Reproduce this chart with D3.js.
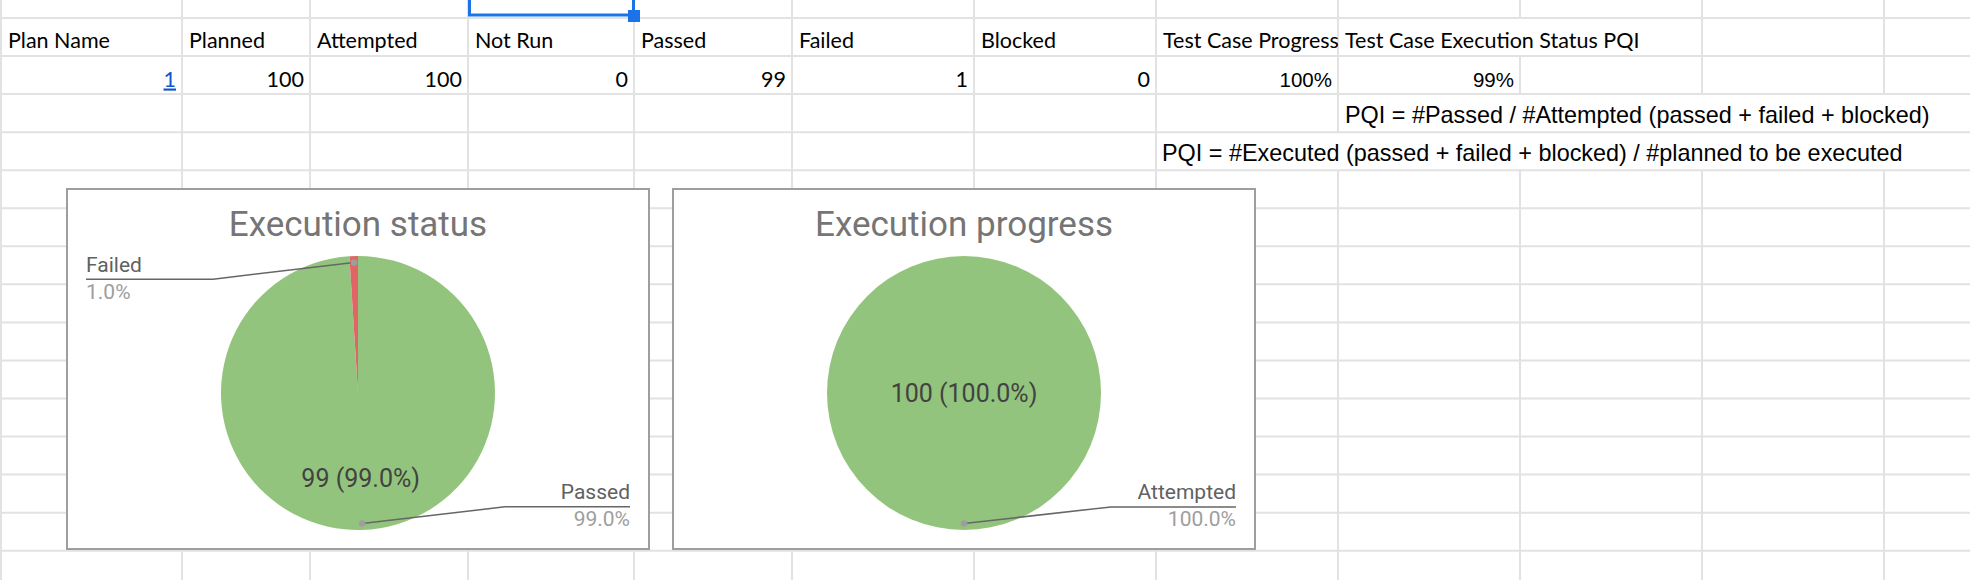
<!DOCTYPE html>
<html>
<head>
<meta charset="utf-8">
<script src="https://cdn.jsdelivr.net/npm/d3@7"></script>
<style>
  html, body { margin: 0; padding: 0; background: #fff; }
  svg { display: block; }
</style>
</head>
<body>
<div id="chart"></div>
<script>
// ---------- DATA ----------
const headers = ["Plan Name", "Planned", "Attempted", "Not Run", "Passed", "Failed", "Blocked", "Test Case Progress", "Test Case Execution Status PQI"];
const rowValues = ["1", "100", "100", "0", "99", "1", "0", "100%", "99%"];
const formulaPassed = "PQI = #Passed / #Attempted (passed + failed + blocked)";
const formulaExecuted = "PQI = #Executed (passed + failed + blocked) / #planned to be executed";

const statusTitle = "Execution status";
const statusLabels = ["Passed", "Failed"];
const statusValues = [99, 1];

const progressTitle = "Execution progress";
const progressLabels = ["Attempted"];
const progressValues = [100];

const sliceColors = { "Passed": "#93c47d", "Failed": "#e06666", "Attempted": "#93c47d" };

// ---------- LAYOUT ----------
const W = 1970, H = 580;
const colEdges = [1, 182, 310, 468, 634, 792, 974, 1156, 1338, 1520, 1702, 1884];
const rowTop = 18, rowH = 38.05;
const rowLines = d3.range(15).map(k => rowTop + rowH * k);
const gridColor = "#e2e2e2";
const cellFont = "Lato, 'Open Sans', sans-serif";
const arialFont = "'Liberation Sans', Arial, sans-serif";
const chartFont = "Roboto, 'Noto Sans', sans-serif";

const svg = d3.select("#chart").append("svg")
  .attr("width", W).attr("height", H)
  .attr("viewBox", `0 0 ${W} ${H}`);

svg.append("rect").attr("width", W).attr("height", H).attr("fill", "#fff");

// ---------- GRID ----------
const grid = svg.append("g");
rowLines.forEach(y => {
  grid.append("line").attr("x1", 0).attr("x2", W).attr("y1", y).attr("y2", y)
    .attr("stroke", gridColor).attr("stroke-width", 2);
});
// vertical lines hidden where text overflows: row index -> hidden column edges
const hidden = {
  0: [1520],
  2: [1520, 1702, 1884],
  3: [1338, 1520, 1702, 1884]
};
const rowBands = [[-30, rowLines[0]]].concat(d3.range(rowLines.length).map(i => [rowLines[i], i + 1 < rowLines.length ? rowLines[i + 1] : H + 30]));
rowBands.forEach((band, bi) => {
  const r = bi - 1;
  colEdges.forEach(x => {
    if (hidden[r] && hidden[r].includes(x)) return;
    grid.append("line").attr("x1", x).attr("x2", x).attr("y1", band[0]).attr("y2", band[1])
      .attr("stroke", gridColor).attr("stroke-width", 2);
  });
});

// ---------- CELL TEXT ----------
svg.append("defs").append("clipPath").attr("id", "clipProg")
  .append("rect").attr("x", colEdges[7]).attr("y", rowLines[0]).attr("width", colEdges[8] - colEdges[7]).attr("height", rowH);

headers.forEach((h, i) => {
  const t = svg.append("text")
    .attr("x", colEdges[i] + 7).attr("y", rowLines[1] - 7.7)
    .attr("font-family", cellFont).attr("font-size", 21.5).attr("fill", "#000")
    .text(h);
  if (i === 7) t.attr("clip-path", "url(#clipProg)");
});

rowValues.forEach((v, i) => {
  const isPct = v.endsWith("%");
  const t = svg.append("text")
    .attr("x", colEdges[i + 1] - 6).attr("y", rowLines[2] - 7.6)
    .attr("text-anchor", "end")
    .attr("font-family", isPct ? arialFont : cellFont)
    .attr("font-size", isPct ? 20.5 : 21.5)
    .attr("fill", i === 0 ? "#1155cc" : "#000")
    .text(v);
  if (i === 0) t.attr("text-decoration", "underline");
});

svg.append("text").attr("x", colEdges[8] + 7).attr("y", rowLines[3] - 8.7)
  .attr("font-family", arialFont).attr("font-size", 23.4).attr("fill", "#000")
  .text(formulaPassed);
svg.append("text").attr("x", colEdges[7] + 6).attr("y", rowLines[4] - 9)
  .attr("font-family", arialFont).attr("font-size", 23.4).attr("fill", "#000")
  .text(formulaExecuted);

// ---------- SELECTION ----------
const sel = svg.append("g");
sel.append("rect").attr("x", colEdges[3] + 1.5).attr("y", -10)
  .attr("width", colEdges[4] - colEdges[3] - 2).attr("height", 25)
  .attr("fill", "none").attr("stroke", "#1a73e8").attr("stroke-width", 3);
sel.append("rect").attr("x", colEdges[4] - 6).attr("y", 10).attr("width", 12).attr("height", 12)
  .attr("fill", "#1a73e8");

// ---------- PIE CHARTS ----------
function drawPie(boxX, title, labels, values) {
  const box = { x: boxX, y: 189, w: 582, h: 360 };
  const g = svg.append("g");
  g.append("rect").attr("x", box.x).attr("y", box.y).attr("width", box.w).attr("height", box.h)
    .attr("fill", "#fff").attr("stroke", "#9e9e9e").attr("stroke-width", 2);

  const cx = box.x + box.w / 2, cy = box.y + 204, R = 137;
  g.append("text").attr("x", cx).attr("y", box.y + 47).attr("text-anchor", "middle")
    .attr("font-family", chartFont).attr("font-size", 35).attr("fill", "#757575")
    .text(title);

  const data = labels.map((l, i) => ({ label: l, value: values[i] }));
  const total = d3.sum(values);
  const pct = d3.format(".1%");
  const pie = d3.pie().sort(null).value(d => d.value);
  const arcs = pie(data);
  const arc = d3.arc().innerRadius(0).outerRadius(R);

  const pg = g.append("g").attr("transform", `translate(${cx},${cy})`);
  pg.selectAll("path").data(arcs).join("path")
    .attr("d", arc)
    .attr("fill", d => sliceColors[d.data.label]);

  // inside labels (only for large slices)
  arcs.forEach(a => {
    const share = a.data.value / total;
    if (share < 0.05) return;
    const mid = (a.startAngle + a.endAngle) / 2;
    const dist = share >= 0.999 ? 0 : R * 0.618;
    const tx = dist * Math.sin(mid), ty = -dist * Math.cos(mid);
    pg.append("text").attr("x", tx).attr("y", ty + 9).attr("text-anchor", "middle")
      .attr("font-family", chartFont).attr("font-size", 25).attr("fill", "#424242")
      .text(`${a.data.value} (${pct(share)})`);
  });

  // outside labels with leader lines
  const lg = g.append("g");
  arcs.forEach(a => {
    const share = a.data.value / total;
    const mid = (a.startAngle + a.endAngle) / 2;
    const dr = R - 6.5;
    const dx = cx + dr * Math.sin(mid), dy = cy - dr * Math.cos(mid);
    const right = Math.sin(mid) >= -1e-6;
    const ly = dy - Math.sign(-Math.cos(mid)) * 16.6;
    const elbowX = right ? cx + 147 : cx - 145;
    const edgeX = right ? box.x + box.w - 19 : box.x + 19;
    lg.append("path")
      .attr("d", `M${dx},${dy}L${elbowX},${ly}L${edgeX},${ly}`)
      .attr("fill", "none").attr("stroke", "#666").attr("stroke-width", 1.5);
    lg.append("circle").attr("cx", dx).attr("cy", dy).attr("r", 3.3).attr("fill", "#9e9e9e");
    lg.append("text").attr("x", edgeX).attr("y", ly - 7.5)
      .attr("text-anchor", right ? "end" : "start")
      .attr("font-family", chartFont).attr("font-size", 21).attr("fill", "#616161")
      .text(a.data.label);
    lg.append("text").attr("x", edgeX).attr("y", ly + 19.5)
      .attr("text-anchor", right ? "end" : "start")
      .attr("font-family", chartFont).attr("font-size", 21).attr("fill", "#9e9e9e")
      .text(pct(share));
  });
}

drawPie(67, statusTitle, statusLabels, statusValues);
drawPie(673, progressTitle, progressLabels, progressValues);
</script>
</body>
</html>
